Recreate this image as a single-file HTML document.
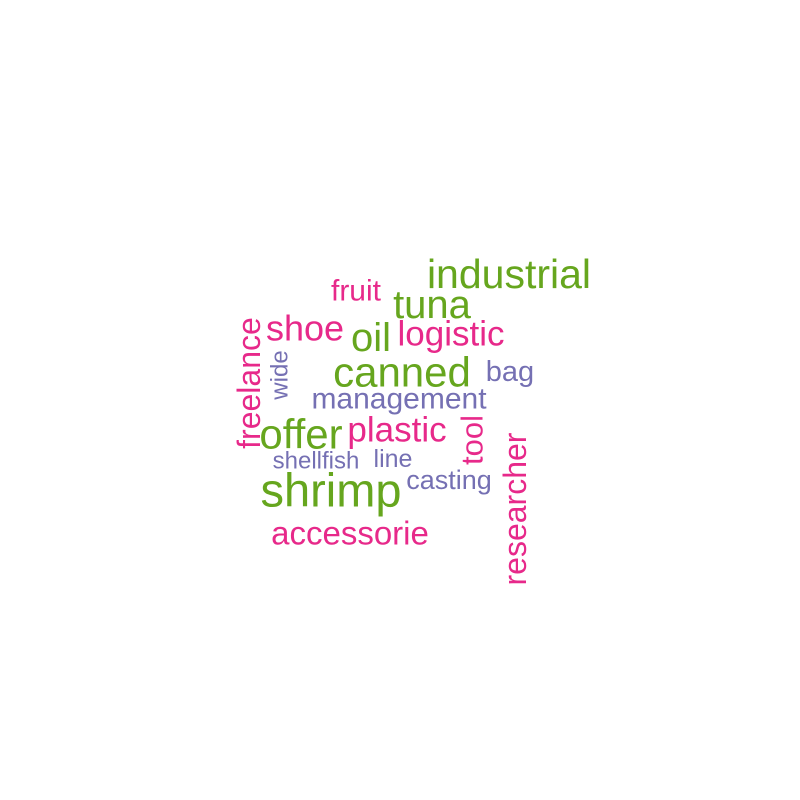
<!DOCTYPE html>
<html><head><meta charset="utf-8"><style>
html,body{margin:0;padding:0;background:#fff;}
svg{display:block;}
text{font-family:"Liberation Sans",Arial,sans-serif;}
</style></head><body>
<svg id="cloud" width="800" height="800"></svg>
<script>
const words=["industrial","tuna","fruit","shoe","oil","logistic","canned","bag","freelance","wide","management","offer","plastic","tool","shellfish","line","casting","shrimp","researcher","accessorie"];
const sizes=[41,40,30,36,40,35,42,29,32,24,30,42,35,31,24,25,27,47,32,33];
const colorGroups=["g","g","p","p","g","p","g","v","p","v","v","g","p","p","v","v","v","g","p","p"];
const xs=[509,432,356,305,371,451,402,510,249,280,399,301,397,472,316,393,449,331,515,350];
const ys=[274,305,291,328,338,334,372,372,383,375,399,434,430,440,461,459,480,490,509,533];
const rotated=[0,0,0,0,0,0,0,0,1,1,0,0,0,1,0,0,0,0,1,0];
const palette={g:"#66A61E",p:"#E7298A",v:"#7570B3"};
const svg=document.getElementById('cloud');
words.forEach((w,i)=>{
  const t=document.createElementNS('http://www.w3.org/2000/svg','text');
  
  
  t.setAttribute('x',xs[i]);t.setAttribute('y',ys[i]);
  t.setAttribute('text-anchor','middle');
  t.setAttribute('dominant-baseline','central');
  t.setAttribute('font-size',sizes[i]);
  t.setAttribute('fill',palette[colorGroups[i]]);
  if(rotated[i])t.setAttribute('transform','rotate(-90 '+xs[i]+' '+ys[i]+')');
  t.textContent=w;
  svg.appendChild(t);
});
</script>
</body></html>
